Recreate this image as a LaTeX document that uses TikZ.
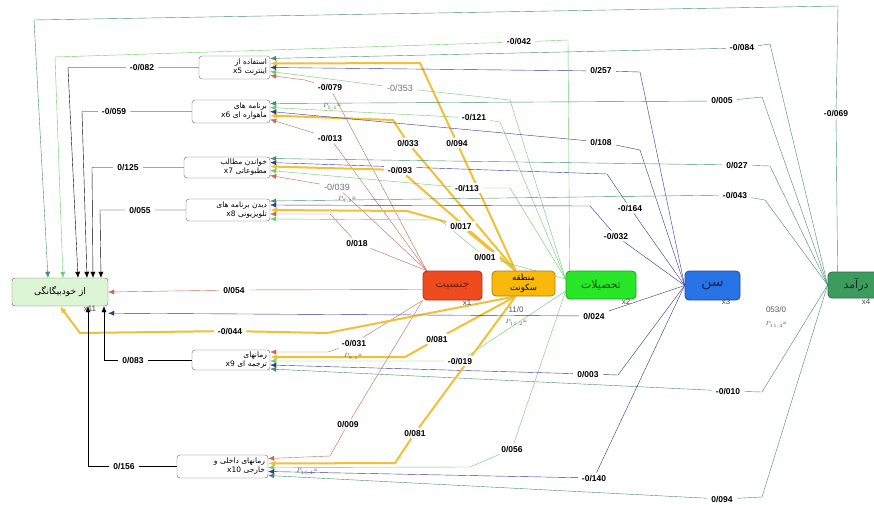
\documentclass[tikz,border=0pt]{standalone}
\usepackage{fontspec}
\setmainfont{Liberation Sans}
\newfontfamily\fa[Script=Arabic]{DejaVu Sans}
\TeXXeTstate=1
\usetikzlibrary{arrows.meta}
\definecolor{redl}{RGB}{200,105,85}
\definecolor{orl}{RGB}{242,192,55}
\definecolor{grl}{RGB}{110,205,110}
\definecolor{bll}{RGB}{55,55,150}
\definecolor{tll}{RGB}{70,140,110}
\definecolor{genf}{RGB}{240,75,30}
\definecolor{regf}{RGB}{248,185,10}
\definecolor{eduf}{RGB}{40,230,40}
\definecolor{agef}{RGB}{40,115,230}
\definecolor{incf}{RGB}{60,155,95}
\definecolor{tgtf}{RGB}{220,245,212}
\pgfdeclarelayer{bg}
\pgfsetlayers{bg,main}

\begin{document}
\begin{tikzpicture}[x=1pt,y=-1pt,
		>={Latex[length=6pt,width=5pt]},
		medBox/.style={draw=black!60, rounded corners=3pt, fill=white, align=right, inner xsep=3pt, inner ysep=0.5pt, font=\fa\fontsize{7.5}{9}\selectfont},
		exoBox/.style={draw=#1!70!black, fill=#1, rounded corners=4pt, line width=0.8pt, align=center, font=\fa\fontsize{11}{12}\selectfont, inner sep=1pt},
		coef/.style={fill=white, inner xsep=4pt, inner ysep=2pt, font=\bfseries\fontsize{8.5}{10}\selectfont},
		grayCoef/.style={coef, font=\fontsize{9}{10}\selectfont, text=black!55},
		pNote/.style={font=\fontsize{6.5}{7}\selectfont, text=black!65, inner sep=1pt},
		xTag/.style={font=\fontsize{8}{9}\selectfont, text=black!70, inner sep=0pt},
		genArrow/.style={draw=redl, thin, ->},
		regArrow/.style={draw=orl, line width=2pt, -{Latex[length=7pt,width=6pt]}},
		eduArrow/.style={draw=grl, thin, ->},
		ageArrow/.style={draw=bll, thin, ->},
		incArrow/.style={draw=tll, thin, ->},
		medArrow/.style={draw=black, thin, ->}]
		
		\clip (0,0) rectangle (874,504);
		
		% target and mediators
		\node [draw=black!60, fill=tgtf, rounded corners=3pt, minimum width=96pt, minimum height=28pt, font=\fa\fontsize{9}{10}\selectfont] (x11) at (60,292) {\beginR از خودبیگانگی\endR};
		\node [medBox, text width=65pt, minimum height=23pt] (x5) at (234.5,67.5) {\beginR استفاده از\endR\\ x5 \beginR اینترنت\endR};
		\node [medBox, text width=72pt, minimum height=23pt] (x6) at (231,111.5) {\beginR برنامه های\endR\\ x6 \beginR ماهواره ای\endR};
		\node [medBox, text width=80pt, minimum height=21pt] (x7) at (227,167.5) {\beginR خواندن مطالب\endR\\ x7 \beginR مطبوعاتی\endR};
		\node [medBox, text width=78pt, minimum height=22pt] (x8) at (228,210) {\beginR دیدن برنامه های\endR\\ x8 \beginR تلویزیونی\endR};
		\node [medBox, text width=72pt, minimum height=20pt] (x9) at (231,360) {\beginR رمانهای\endR\\ x9 \beginR ترجمه ای\endR};
		\node [medBox, text width=85pt, minimum height=23pt] (x10) at (222.5,466.5) {\beginR رمانهای داخلی و\endR\\ x10 \beginR خارجی\endR};
		
		% exogenous variables
		\node [exoBox=genf, minimum width=59pt, minimum height=29pt, text=genf!45!black] (gen) at (452.5,285.5) {\beginR جنسیت\endR};
		\node [exoBox=regf, minimum width=63pt, minimum height=25pt, font=\fa\fontsize{8.5}{9.5}\selectfont] (reg) at (523.5,283.5) {\beginR منطقه\endR\\ \beginR سکونت\endR};
		\node [exoBox=eduf, minimum width=70pt, minimum height=28pt, text=eduf!35!black] (edu) at (601,285) {\beginR تحصیلات\endR};
		\node [exoBox=agef, minimum width=55pt, minimum height=29pt, text=agef!35!black, font=\fa\fontsize{14}{15}\selectfont] (age) at (712.5,285.5) {\beginR سن\endR};
		\node [exoBox=incf, minimum width=56pt, minimum height=26pt, text=incf!30!black] (inc) at (856,285) {\beginR درآمد\endR};
		
		\node [xTag] (t1) at (467,303) {x1};
		\node [xTag] (t2) at (626,302) {x2};
		\node [xTag] (t3) at (726,302) {x3};
		\node [xTag] (t4) at (866,302) {x4};
		\node [xTag] (t11) at (90,309) {x11};
		
		% coefficients
		\node [coef] (l079) at (330,88) {-0/079};
		\node [coef] (l094a) at (457,143) {0/094};
		\node [grayCoef] (l353) at (400,88) {-0/353};
		\node [coef] (l257) at (601,71) {0/257};
		\node [coef] (l084) at (742,48) {-0/084};
		\node [coef] (l013) at (330,138) {-0/013};
		\node [coef] (l033) at (408,143) {0/033};
		\node [coef] (l121) at (474,118) {-0/121};
		\node [coef] (l108) at (601,142) {0/108};
		\node [coef] (l005) at (722,101) {0/005};
		\node [grayCoef] (lm039) at (337,187) {-0/039};
		\node [coef] (l093) at (400,170) {-0/093};
		\node [coef] (l113) at (467,188) {-0/113};
		\node [coef] (l164) at (630,208) {-0/164};
		\node [coef] (l027) at (737,165) {0/027};
		\node [coef] (l018) at (357,243) {0/018};
		\node [coef] (l017) at (461,226) {0/017};
		\node [coef] (l001) at (485,257) {0/001};
		\node [coef] (l032) at (616,236) {-0/032};
		\node [coef] (l043) at (735,195) {-0/043};
		\node [coef] (l031) at (354,343) {-0/031};
		\node [coef] (l081a) at (437,339) {0/081};
		\node [coef] (l019) at (460,361) {-0/019};
		\node [coef] (l003) at (588,374) {0/003};
		\node [coef] (l010) at (728,391) {-0/010};
		\node [coef] (l009) at (348,424) {0/009};
		\node [coef] (l081b) at (415,433) {0/081};
		\node [coef] (l056) at (512,449) {0/056};
		\node [coef] (l140) at (594,478) {-0/140};
		\node [coef] (l094b) at (722,499) {0/094};
		\node [coef] (l054) at (234,290) {0/054};
		\node [coef] (l044) at (230,331) {-0/044};
		\node [coef] (l042) at (519,42) {-0/042};
		\node [coef] (l024) at (594,316) {0/024};
		\node [coef] (l069) at (836,114) {-0/069};
		\node [coef] (l082) at (142,67.5) {-0/082};
		\node [coef] (l059) at (114,111.5) {-0/059};
		\node [coef] (l125) at (128,167.5) {0/125};
		\node [coef] (l055) at (140,210) {0/055};
		\node [coef] (l083) at (133,360) {0/083};
		\node [coef] (l156) at (124,466.5) {0/156};
		
		\node [pNote] (p51) at (332,107) {$P_{5,1}$=};
		\node [pNote] (p71) at (347,200) {$P_{7,1}$=};
		\node [pNote] (p91) at (353,357) {$P_{9,1}$=};
		\node [pNote] (p101) at (307,472) {$P_{10,1}$=};
		\node [pNote, font=\fontsize{8}{9}\selectfont] (v112) at (516,310) {11/0};
		\node [pNote] (p112) at (516,323) {$P_{11,2}$=};
		\node [pNote, font=\fontsize{8}{9}\selectfont] (v114) at (776,310) {053/0};
		\node [pNote] (p114) at (776,325) {$P_{11,4}$=};
		
		\begin{pgfonlayer}{bg}
		\fill [white] (0,0) rectangle (874,504);
		
		% to x5
		\draw [genArrow] ([xshift=4pt]gen.north west) -- (l079) -- (305,80) -- ([yshift=-8pt]x5.east);
		\draw [regArrow] ([xshift=-8pt]reg.north) -- (l094a) -- (420,63) -- ([yshift=4pt]x5.east);
		\draw [eduArrow] ([yshift=6pt]edu.west) -- (510,100) -- (l353) -- ([yshift=-4pt]x5.east);
		\draw [ageArrow] (age.west) -- (640,72) -- (l257) -- (x5.east);
		\draw [incArrow] (inc.west) -- (770,44) -- (l084) -- ([yshift=9pt]x5.east);
		
		% to x6
		\draw [genArrow] ([xshift=4pt]gen.north west) -- (l013) -- ([yshift=-8pt]x6.east);
		\draw [regArrow] ([xshift=-8pt]reg.north) -- (l033) -- (393,120) -- ([yshift=-4pt]x6.east);
		\draw [eduArrow] ([yshift=6pt]edu.west) -- (500,122) -- (l121) -- ([yshift=4pt]x6.east);
		\draw [ageArrow] (age.west) -- (640,150) -- (l108) -- (x6.east);
		\draw [incArrow] (inc.west) -- (762,97) -- (l005) -- ([yshift=8pt]x6.east);
		
		% to x7
		\draw [genArrow] ([xshift=4pt]gen.north west) -- (lm039) -- ([yshift=-8pt]x7.east);
		\draw [regArrow] ([xshift=-8pt]reg.north) -- (l093) -- ([yshift=1pt]x7.east);
		\draw [eduArrow] ([yshift=6pt]edu.west) -- (510,188) -- (l113) -- ([yshift=-3pt]x7.east);
		\draw [ageArrow] (age.west) -- (l164) -- (607,174) -- ([yshift=5pt]x7.east);
		\draw [incArrow] (inc.west) -- (770,166) -- (l027) -- ([yshift=9pt]x7.east);
		
		% to x8
		\draw [genArrow] ([xshift=4pt]gen.north west) -- (l018) -- (330,214) -- ([yshift=-4pt]x8.east);
		\draw [regArrow] ([xshift=-8pt]reg.north) -- (l017) -- (407,211) -- (x8.east);
		\draw [eduArrow] ([yshift=6pt]edu.west) -- (l001) -- (440,220) -- ([yshift=-9pt]x8.east);
		\draw [ageArrow] (age.west) -- (l032) -- (590,206) -- ([yshift=5pt]x8.east);
		\draw [incArrow] (inc.west) -- (765,200) -- (l043) -- ([yshift=9pt]x8.east);
		
		% to x9
		\draw [genArrow] (gen.south west) -- (l031) -- (328,352) -- ([yshift=8pt]x9.east);
		\draw [regArrow] ([xshift=-8pt]reg.south) -- (l081a) -- (405,357) -- ([yshift=3pt]x9.east);
		\draw [eduArrow] ([yshift=-6pt]edu.west) -- (l019) -- ([yshift=-1pt]x9.east);
		\draw [ageArrow] (age.west) -- (618,375) -- (l003) -- ([yshift=-5pt]x9.east);
		\draw [incArrow] (inc.west) -- (762,392) -- (l010) -- ([yshift=-9pt]x9.east);
		
		% to x10
		\draw [genArrow] (gen.south west) -- (l009) -- (330,456) -- ([yshift=8pt]x10.east);
		\draw [regArrow] ([xshift=-8pt]reg.south) -- (l081b) -- (395,463) -- ([yshift=3pt]x10.east);
		\draw [eduArrow] ([yshift=-6pt]edu.west) -- (l056) -- (470,467) -- ([yshift=-1pt]x10.east);
		\draw [ageArrow] (age.west) -- (l140) -- ([yshift=-5pt]x10.east);
		\draw [incArrow] (inc.west) -- (762,497) -- (l094b) -- ([yshift=-9pt]x10.east);
		
		% direct to x11
		\draw [genArrow] ([yshift=-4pt]gen.west) -- (l054) -- (x11.east);
		\draw [regArrow] ([xshift=-8pt]reg.south) -- (327,333) -- (l044) -- (80,333) -- (x11.south);
		\draw [eduArrow] ([xshift=4pt]edu.north west) -- (568,40) -- (l042) -- (55,57) -- ([xshift=3pt]x11.north);
		\draw [ageArrow] (age.west) -- (l024) -- ([yshift=-7pt]x11.south east);
		\draw [incArrow] ([xshift=10pt]inc.north west) -- (l069) -- (838,6) -- (34,20) -- ([xshift=-12pt]x11.north);
		
		% mediators to x11
		\draw [medArrow] (x5.west) -- (l082) -- (68,67.5) -- ([xshift=18pt]x11.north);
		\draw [medArrow] (x6.west) -- (l059) -- (82,111.5) -- ([xshift=27pt]x11.north);
		\draw [medArrow] (x7.west) -- (l125) -- (92,167.5) -- ([xshift=33pt]x11.north);
		\draw [medArrow] (x8.west) -- (l055) -- (100,210) -- ([xshift=41pt]x11.north);
		\draw [medArrow] (x9.west) -- (l083) -- (104,360) -- ([xshift=44pt]x11.south);
		\draw [medArrow] (x10.west) -- (l156) -- (88,466.5) -- ([xshift=28pt]x11.south);
		\end{pgfonlayer}
	\end{tikzpicture}
\end{document}
